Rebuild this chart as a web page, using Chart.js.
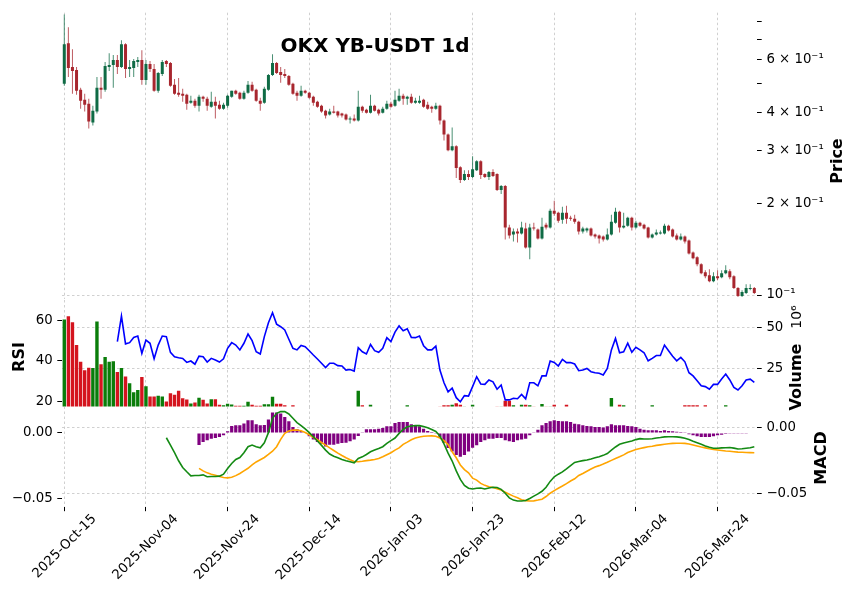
<!DOCTYPE html>
<html>
<head>
<meta charset="utf-8">
<title>OKX YB-USDT 1d</title>
<script src="https://cdn.jsdelivr.net/npm/chart.js@4.4.1/dist/chart.umd.min.js"></script>
<style>
  html, body { margin: 0; padding: 0; background: #fff; }
  #wrap { position: relative; width: 856px; height: 599px; }
  #wrap canvas { position: absolute; left: 0; top: 0; }
</style>
</head>
<body>
<div id="wrap">
  <canvas id="priceChart" width="856" height="599"></canvas>
  <canvas id="rsiChart" width="856" height="599"></canvas>
  <canvas id="macdChart" width="856" height="599"></canvas>
</div>
<script>
// x tick positions (candle index) and their date labels
const tickIdx = [0, 20, 40, 60, 80, 100, 120, 140, 160];
const tickLabels = ['2025-Oct-15', '2025-Nov-04', '2025-Nov-24', '2025-Dec-14', '2026-Jan-03',
                    '2026-Jan-23', '2026-Feb-12', '2026-Mar-04', '2026-Mar-24'];
const priceTicks = [0.1, 0.2, 0.3, 0.4, 0.5, 0.6, 0.7, 0.8];
const priceTickLabels = ['10\u207B\u00B9', '2 \u00D7 10\u207B\u00B9', '3 \u00D7 10\u207B\u00B9', '4 \u00D7 10\u207B\u00B9',
                         '', '6 \u00D7 10\u207B\u00B9', '', ''];

// daily OHLC, 2025-10-15 .. 2026-04-02
const open = [
  .4982,.6786,.5663,.5536,.4761,.4416,.4285,.3713,.4034,.4834,
  .4761,.5663,.5749,.5970,.5663,.6735,.5578,.5620,.5880,.5970,
  .5134,.5793,.5578,.4726,.5372,.5925,.5836,.4944,.4655,.4620,
  .4585,.4317,.4383,.4221,.4517,.4449,.4189,.4350,.4252,.4126,
  .4221,.4517,.4726,.4655,.4449,.4655,.4944,.4761,.4383,.4317,
  .4761,.5332,.5836,.5454,.5372,.5292,.4982,.4655,.4551,.4726,
  .4655,.4517,.4350,.4221,.4064,.3944,.4034,.4034,.3973,.3944,
  .3798,.3826,.3769,.4189,.4095,.4003,.4221,.4095,.4003,.4126,
  .4285,.4221,.4383,.4551,.4449,.4517,.4317,.4317,.4416,.4252,
  .4189,.4126,.4221,.3769,.3392,.3006,.3098,.2644,.2398,.2508,
  .2453,.2585,.2767,.2508,.2453,.2547,.2508,.2224,.2292,.1670,
  .1584,.1620,.1596,.1657,.1436,.1670,.1645,.1537,.1708,.1670,
  .1898,.1870,.1774,.1870,.1800,.1787,.1747,.1620,.1632,.1657,
  .1584,.1572,.1560,.1525,.1584,.1734,.1884,.1670,.1695,.1800,
  .1670,.1734,.1708,.1670,.1548,.1584,.1596,.1596,.1695,.1645,
  .1572,.1525,.1560,.1514,.1383,.1332,.1263,.1189,.1163,.1111,
  .1154,.1145,.1180,.1198,.1154,.1054,.0992,.1015,.1046,.1054
];
const high = [
  .8445,.7656,.6486,.5663,.4834,.4620,.4449,.4221,.5252,.5252,
  .5880,.6293,.6199,.6199,.6941,.6786,.5970,.6015,.6107,.6437,
  .5970,.5925,.5793,.5454,.5970,.5970,.5880,.5173,.5212,.4797,
  .4620,.4551,.4449,.4585,.4551,.4517,.4690,.4517,.4383,.4317,
  .4585,.4726,.4761,.4690,.4726,.5096,.5058,.4797,.4483,.4871,
  .5372,.6246,.5880,.5663,.5578,.5332,.5020,.4726,.4907,.4761,
  .4690,.4551,.4383,.4252,.4095,.4126,.4221,.4064,.4003,.3973,
  .3885,.3944,.4726,.4221,.4126,.4585,.4252,.4126,.4189,.4383,
  .4350,.4726,.4797,.4620,.4551,.4620,.4483,.4551,.4449,.4350,
  .4221,.4317,.4252,.3798,.3417,.3575,.3122,.2665,.2585,.2585,
  .2873,.2788,.2788,.2527,.2566,.2605,.2527,.2309,.2309,.1708,
  .1657,.1657,.1747,.1734,.1721,.1734,.1657,.1800,.1734,.1927,
  .2047,.1884,.1956,.1971,.1828,.1842,.1760,.1682,.1670,.1670,
  .1596,.1584,.1572,.1657,.1842,.1941,.1898,.1870,.1814,.1814,
  .1760,.1747,.1721,.1682,.1596,.1645,.1632,.1721,.1708,.1657,
  .1596,.1596,.1572,.1525,.1393,.1342,.1273,.1207,.1216,.1189,
  .1207,.1207,.1254,.1216,.1163,.1062,.1038,.1086,.1086,.1062
];
const low = [
  .4907,.5252,.4620,.4585,.4126,.4034,.3548,.3630,.3973,.4449,
  .4690,.5495,.4834,.5372,.5620,.5212,.5252,.5252,.5663,.4944,
  .4944,.5454,.4690,.4655,.5292,.5663,.4871,.4585,.4517,.4350,
  .4095,.4285,.4157,.4034,.4350,.4064,.4157,.3826,.4095,.4095,
  .4157,.4483,.4585,.4416,.4416,.4620,.4690,.4350,.4064,.4285,
  .4726,.5292,.5372,.5020,.5212,.4907,.4585,.4383,.4517,.4620,
  .4449,.4221,.4157,.4003,.3826,.3914,.3973,.3855,.3855,.3769,
  .3685,.3741,.3741,.4003,.3973,.3973,.4034,.3914,.3973,.4095,
  .4157,.4189,.4350,.4252,.4252,.4285,.4285,.4285,.4157,.4095,
  .4003,.4095,.3657,.3241,.2984,.2984,.2434,.2344,.2380,.2398,
  .2434,.2566,.2416,.2434,.2398,.2453,.2207,.2157,.1525,.1537,
  .1503,.1491,.1584,.1425,.1312,.1632,.1525,.1525,.1645,.1657,
  .1828,.1734,.1721,.1721,.1760,.1721,.1584,.1596,.1608,.1560,
  .1537,.1480,.1503,.1514,.1572,.1721,.1608,.1657,.1682,.1632,
  .1657,.1682,.1645,.1537,.1537,.1572,.1584,.1584,.1620,.1548,
  .1514,.1514,.1480,.1362,.1312,.1244,.1172,.1136,.1103,.1103,
  .1120,.1136,.1172,.1128,.1046,.0985,.0985,.1008,.1038,.1008
];
const close = [
  .6735,.5620,.5495,.4726,.4383,.4252,.3741,.4064,.4834,.4761,
  .5706,.5749,.5970,.5663,.6735,.5578,.5663,.5925,.5970,.5134,
  .5793,.5578,.4726,.5413,.5880,.5793,.4907,.4620,.4585,.4551,
  .4285,.4383,.4221,.4517,.4449,.4221,.4350,.4221,.4126,.4252,
  .4551,.4726,.4620,.4449,.4655,.4944,.4726,.4383,.4285,.4797,
  .5332,.5836,.5413,.5332,.5292,.4944,.4620,.4551,.4726,.4655,
  .4483,.4317,.4189,.4034,.3914,.4034,.4003,.3914,.3914,.3798,
  .3826,.3769,.4189,.4064,.4003,.4221,.4064,.3973,.4126,.4285,
  .4189,.4416,.4551,.4449,.4517,.4317,.4383,.4383,.4189,.4126,
  .4126,.4221,.3769,.3392,.3006,.3098,.2625,.2398,.2508,.2453,
  .2605,.2767,.2490,.2453,.2547,.2471,.2224,.2292,.1670,.1572,
  .1620,.1596,.1670,.1436,.1670,.1657,.1537,.1682,.1670,.1898,
  .1856,.1760,.1870,.1787,.1787,.1747,.1620,.1657,.1657,.1572,
  .1560,.1537,.1525,.1584,.1747,.1884,.1670,.1695,.1800,.1670,
  .1734,.1695,.1657,.1548,.1584,.1608,.1608,.1695,.1632,.1560,
  .1525,.1560,.1503,.1372,.1322,.1263,.1180,.1154,.1111,.1154,
  .1136,.1180,.1207,.1145,.1054,.0992,.1023,.1054,.1054,.1015
];

// volume in millions
const volume = [
  55, 57, 53.3, 39.4, 29, 23.8, 25.4, 25.2, 53.8, 27.5,
  32, 29, 29.4, 22.7, 25.2, 20, 15.8, 10.2, 11.7, 19.6,
  14, 7.7, 7.7, 8.1, 7.7, 4.6, 9.6, 8.75, 11.25, 6.5,
  5.8, 3.3, 4, 6.9, 5.6, 3.3, 6, 6, 2.5, 2.3,
  3.1, 2.7, 1.9, 1.9, 1.9, 4.4, 2.5, 1.9, 1.9, 2.9,
  2.9, 7.5, 3.1, 3.1, 2.2, 1.2, 2.2, 1.1, 1.0, 1.2,
  1.0, 1.1, 0.9, 1.0, 1.2, 1.0, 0.9, 1.1, 1.0, 0.8,
  1.0, 1.2, 11.25, 2.2, 1.2, 2.5, 1.0, 0.9, 1.1, 1.0,
  0.9, 1.0, 1.2, 1.1, 2.2, 1.0, 0.9, 1.0, 1.1, 0.9,
  1.0, 1.2, 1.3, 2.2, 2.2, 2.5, 3.5, 2.5, 1.3, 1.2,
  2.5, 1.1, 1.0, 1.2, 1.1, 1.0, 1.3, 1.4, 5.0, 5.0,
  2.2, 1.2, 2.6, 2.6, 2.2, 1.3, 1.2, 3.0, 1.4, 1.3,
  2.6, 1.2, 1.1, 2.6, 1.0, 1.1, 1.0, 1.2, 0.9, 1.0,
  1.1, 1.0, 0.9, 1.0, 6.7, 1.2, 2.6, 2.2, 1.0, 1.1,
  1.0, 0.9, 1.0, 1.1, 2.2, 1.0, 0.9, 1.0, 1.1, 1.0,
  0.9, 1.0, 2.2, 2.2, 2.2, 2.2, 1.2, 2.2, 1.1, 1.0,
  1.0, 1.1, 2.2, 1.0, 1.2, 1.1, 1.0, 0.9, 1.0, 1.0
];

const rsi = [
  null, null, null, null, null, null, null, null, null, null,
  null, null, null, 49.6, 62.3, 48.5, 49.1, 51.7, 52.4, 43.8,
  50.4, 48.8, 41.1, 47.9, 52.4, 52.1, 44.3, 42.1, 41.6, 41.3,
  39.3, 40.0, 38.4, 42.4, 42.1, 39.5, 41.3, 40.5, 39.5, 41.1,
  46.3, 49.1, 47.9, 45.5, 48.8, 53.4, 50.1, 44.6, 43.5, 52.1,
  59.0, 64.0, 58.3, 57.0, 55.4, 50.8, 46.3, 45.5, 47.7, 47.1,
  45.1, 43.0, 41.0, 38.9, 36.7, 38.9, 38.9, 37.7, 37.5, 35.5,
  35.8, 35.0, 46.6, 44.6, 43.5, 48.2, 45.1, 44.3, 46.3, 51.6,
  49.6, 54.3, 57.4, 55.0, 56.0, 51.7, 51.6, 52.4, 47.6, 45.5,
  45.5, 47.4, 35.5, 29.2, 24.7, 26.5, 21.8, 19.8, 22.8, 22.6,
  27.3, 32.2, 28.6, 28.4, 30.6, 29.7, 26.0, 28.1, 20.7, 20.7,
  21.5, 21.3, 23.4, 21.2, 29.2, 29.2, 27.7, 32.6, 32.6, 40.0,
  39.3, 37.5, 40.8, 39.2, 39.2, 38.5, 35.2, 35.5, 36.3, 34.7,
  34.2, 33.9, 33.1, 36.3, 45.5, 51.2, 44.1, 44.6, 48.8, 44.3,
  46.8, 45.5, 44.1, 40.1, 41.3, 42.7, 42.7, 47.9, 45.1, 42.4,
  40.1, 41.8, 39.6, 34.2, 32.6, 30.2, 27.7, 27.3, 26.0, 28.4,
  28.4, 31.1, 33.5, 30.6, 26.9, 25.6, 27.7, 30.6, 31.0, 29.4
];

const macd = [
  null, null, null, null, null, null, null, null, null, null,
  null, null, null, null, null, null, null, null, null, null,
  null, null, null, null, null, -0.0078, -0.0134, -0.0192, -0.0253, -0.0304,
  -0.0337, -0.0368, -0.0365, -0.0365, -0.0360, -0.0375, -0.0373, -0.0373, -0.0370, -0.0355,
  -0.0312, -0.0274, -0.0243, -0.0228, -0.0192, -0.0146, -0.0134, -0.0146, -0.0154, -0.0116,
  -0.0039, 0.0070, 0.0108, 0.0121, 0.0121, 0.0103, 0.0070, 0.0037, 0.0014, -0.0011,
  -0.0039, -0.0070, -0.0103, -0.0136, -0.0172, -0.0202, -0.0218, -0.0230, -0.0243, -0.0253,
  -0.0261, -0.0269, -0.0235, -0.0223, -0.0205, -0.0185, -0.0172, -0.0160, -0.0146, -0.0121,
  -0.0100, -0.0080, -0.0045, -0.0015, 0.0005, 0.0012, 0.0014, 0.0014, 0.0008, -0.0002,
  -0.0015, -0.0030, -0.0065, -0.0125, -0.0195, -0.0255, -0.0330, -0.0395, -0.0440, -0.0462,
  -0.0468, -0.0462, -0.0460, -0.0468, -0.0460, -0.0455, -0.0456, -0.0470, -0.0500, -0.0535,
  -0.0552, -0.0559, -0.0559, -0.0555, -0.0540, -0.0522, -0.0505, -0.0485, -0.0455, -0.0410,
  -0.0375, -0.0355, -0.0338, -0.0315, -0.0290, -0.0266, -0.0258, -0.0252, -0.0247, -0.0240,
  -0.0230, -0.0222, -0.0212, -0.0198, -0.0172, -0.0148, -0.0128, -0.0118, -0.0110, -0.0103,
  -0.0092, -0.0085, -0.0087, -0.0088, -0.0085, -0.0080, -0.0076, -0.0071, -0.0070, -0.0070,
  -0.0071, -0.0075, -0.0082, -0.0092, -0.0105, -0.0116, -0.0128, -0.0140, -0.0150, -0.0158,
  -0.0158, -0.0155, -0.0154, -0.0152, -0.0157, -0.0163, -0.0162, -0.0158, -0.0154, -0.0146
];

const signal = [
  null, null, null, null, null, null, null, null, null, null,
  null, null, null, null, null, null, null, null, null, null,
  null, null, null, null, null, null, null, null, null, null,
  null, null, null, -0.0311, -0.0330, -0.0345, -0.0355, -0.0363, -0.0372, -0.0380,
  -0.0383, -0.0378, -0.0366, -0.0350, -0.0330, -0.0310, -0.0285, -0.0262, -0.0245, -0.0228,
  -0.0205, -0.0180, -0.0146, -0.0090, -0.0045, -0.0026, -0.0020, -0.0019, -0.0025, -0.0038,
  -0.0055, -0.0074, -0.0093, -0.0114, -0.0134, -0.0155, -0.0175, -0.0195, -0.0213, -0.0230,
  -0.0245, -0.0258, -0.0261, -0.0257, -0.0252, -0.0248, -0.0243, -0.0235, -0.0222, -0.0207,
  -0.0192, -0.0172, -0.0155, -0.0128, -0.0111, -0.0093, -0.0080, -0.0072, -0.0067, -0.0065,
  -0.0064, -0.0066, -0.0080, -0.0100, -0.0130, -0.0185, -0.0230, -0.0285, -0.0320, -0.0345,
  -0.0385, -0.0400, -0.0425, -0.0440, -0.0450, -0.0457, -0.0466, -0.0476, -0.0492, -0.0508,
  -0.0522, -0.0535, -0.0550, -0.0556, -0.0559, -0.0558, -0.0552, -0.0545, -0.0525, -0.0500,
  -0.0480, -0.0462, -0.0445, -0.0427, -0.0407, -0.0390, -0.0365, -0.0350, -0.0333, -0.0316,
  -0.0300, -0.0290, -0.0278, -0.0265, -0.0250, -0.0236, -0.0223, -0.0208, -0.0190, -0.0178,
  -0.0168, -0.0160, -0.0153, -0.0147, -0.0142, -0.0136, -0.0132, -0.0128, -0.0124, -0.0121,
  -0.0120, -0.0120, -0.0121, -0.0126, -0.0133, -0.0140, -0.0148, -0.0155, -0.0162, -0.0167,
  -0.0171, -0.0175, -0.0179, -0.0181, -0.0184, -0.0187, -0.0188, -0.0190, -0.0191, -0.0192
];

const hist = [
  null, null, null, null, null, null, null, null, null, null,
  null, null, null, null, null, null, null, null, null, null,
  null, null, null, null, null, null, null, null, null, null,
  null, null, null, -0.0092, -0.0069, -0.0056, -0.0043, -0.0038, -0.0031, -0.0018,
  0.0013, 0.0053, 0.0059, 0.0059, 0.0072, 0.0097, 0.0097, 0.0066, 0.0059, 0.0061,
  0.0102, 0.0156, 0.0156, 0.0148, 0.0122, 0.0089, 0.0046, 0.0028, 0.0015, 0.0005,
  -0.0025, -0.0050, -0.0069, -0.0081, -0.0102, -0.0089, -0.0089, -0.0081, -0.0076, -0.0074,
  -0.0063, -0.0050, -0.0023, 0.0005, 0.0028, 0.0028, 0.0028, 0.0033, 0.0038, 0.0051,
  0.0051, 0.0076, 0.0084, 0.0084, 0.0084, 0.0066, 0.0059, 0.0051, 0.0033, 0.0015,
  0.0008, -0.0005, -0.0030, -0.0075, -0.0115, -0.0140, -0.0168, -0.0180, -0.0168, -0.0140,
  -0.0112, -0.0094, -0.0069, -0.0056, -0.0043, -0.0043, -0.0038, -0.0038, -0.0056, -0.0063,
  -0.0069, -0.0056, -0.0050, -0.0043, -0.0018, 0.0005, 0.0025, 0.0059, 0.0076, 0.0089,
  0.0097, 0.0092, 0.0089, 0.0089, 0.0084, 0.0071, 0.0066, 0.0059, 0.0053, 0.0051,
  0.0046, 0.0046, 0.0041, 0.0051, 0.0066, 0.0059, 0.0059, 0.0059, 0.0053, 0.0051,
  0.0046, 0.0033, 0.0025, 0.0020, 0.0020, 0.0020, 0.0015, 0.0020, 0.0015, 0.0013,
  0.0010, 0.0008, 0.0005, -0.0010, -0.0018, -0.0025, -0.0031, -0.0031, -0.0031, -0.0025,
  -0.0018, -0.0013, -0.0008, -0.0005, -0.0005, -0.0005, -0.0005, -0.0005, null, null
];

const X_MIN = -0.56, X_MAX = 169.66;
const FONT = '"DejaVu Sans", sans-serif';
const tickFont = { family: FONT, size: 13.3 };
const GRID = '#c4c4c4';
const DASH = [2.5, 2.5];

const UP_BODY = '#0f6b45', DOWN_BODY = '#a8262e';
const UP_WICK = 'rgba(15,107,69,0.75)', DOWN_WICK = 'rgba(168,38,46,0.75)';
const UP_VOL = '#0a7d0a', DOWN_VOL = '#d4141e';

const idx = open.map((_, i) => i);
const isUp = idx.map(i => close[i] >= open[i]);

function xScale(show) {
  return {
    type: 'linear', min: X_MIN, max: X_MAX, offset: false,
    afterBuildTicks: s => { s.ticks = tickIdx.map(v => ({ value: v })); },
    afterFit: s => { s.height = show ? 92.5 : 0; },
    grid: { offset: false, color: GRID, lineWidth: 0.8, drawTicks: show, tickLength: 4.7, tickColor: '#000', tickWidth: 1 },
    border: { display: false, dash: DASH },
    ticks: {
      display: show, autoSkip: false, minRotation: 45, maxRotation: 45,
      font: tickFont, color: '#000', padding: 0, labelOffset: 30,
      callback: v => tickLabels[tickIdx.indexOf(v)]
    }
  };
}

function yTicks(values) {
  return s => { s.ticks = values.map(v => ({ value: v })); };
}

const macdFmt = v => v.toFixed(2).replace('-', '\u2212');

const baseOpts = {
  responsive: false, animation: false, events: [], devicePixelRatio: 1,
  plugins: { legend: { display: false }, tooltip: { enabled: false } }
};

// axis titles and chart title, drawn at fixed spots
const textPlugin = {
  id: 'texts',
  afterDraw(chart) {
    const c = chart.ctx;
    c.save();
    c.fillStyle = '#000';
    c.textAlign = 'center';
    c.textBaseline = 'middle';
    c.font = 'bold 20px ' + FONT;
    c.fillText('OKX YB-USDT 1d', 375, 47);
    const vert = (txt, x, y, font) => {
      c.save();
      c.translate(x, y);
      c.rotate(-Math.PI / 2);
      c.font = font;
      c.fillText(txt, 0, 0);
      c.restore();
    };
    vert('Price', 838, 161, 'bold 16px ' + FONT);
    vert('RSI', 20, 357, 'bold 16px ' + FONT);
    vert('Volume', 797, 377, 'bold 16px ' + FONT);
    vert('10\u2076', 797, 317, '14px ' + FONT);
    vert('MACD', 822, 458, 'bold 16px ' + FONT);
    c.restore();
  }
};

// price panel: candles as floating bars (wick + body)
new Chart(document.getElementById('priceChart'), {
  type: 'bar',
  data: {
    datasets: [
      {
        data: idx.map(i => ({ x: i, y: [low[i], high[i]] })),
        backgroundColor: idx.map(i => isUp[i] ? UP_WICK : DOWN_WICK),
        barThickness: 1, grouped: false, inflateAmount: 0, order: 2
      },
      {
        data: idx.map(i => ({ x: i, y: [Math.min(open[i], close[i]), Math.max(open[i], close[i])] })),
        backgroundColor: idx.map(i => isUp[i] ? UP_BODY : DOWN_BODY),
        barThickness: 3, grouped: false, inflateAmount: 0, minBarLength: 1, order: 1
      }
    ]
  },
  options: {
    ...baseOpts,
    layout: { padding: { left: 62, right: 0, top: 10, bottom: 300 } },
    scales: {
      x: xScale(false),
      y: {
        type: 'logarithmic', position: 'right', min: 0.09703, max: 0.856,
        afterBuildTicks: yTicks(priceTicks),
        afterFit: s => { s.width = 99; },
        grid: {
          color: ctx => (ctx.tick && ctx.tick.value === 0.1) ? GRID : 'rgba(0,0,0,0)',
          lineWidth: 0.8, tickLength: 4.7, tickColor: '#000', tickWidth: 1
        },
        border: { display: false, dash: DASH },
        ticks: { font: tickFont, color: '#000', padding: 4.7, autoSkip: false,
                 callback: (v, i) => priceTickLabels[i] }
      }
    }
  }
});

// RSI + volume panel
new Chart(document.getElementById('rsiChart'), {
  type: 'bar',
  data: {
    datasets: [
      {
        type: 'line', data: idx.map(i => ({ x: i, y: rsi[i] })), yAxisID: 'yR',
        borderColor: '#0000ff', borderWidth: 1.6, pointRadius: 0, tension: 0, order: 0
      },
      {
        data: idx.map(i => ({ x: i, y: volume[i] })), yAxisID: 'yV',
        backgroundColor: idx.map(i => isUp[i] ? UP_VOL : DOWN_VOL),
        barThickness: 3.4, grouped: false, inflateAmount: 0, order: 1
      }
    ]
  },
  options: {
    ...baseOpts,
    layout: { padding: { left: 0, right: 0, top: 300, bottom: 192.5 } },
    scales: {
      x: xScale(false),
      yR: {
        type: 'linear', position: 'left', min: 17.42, max: 70.27,
        afterBuildTicks: yTicks([20, 40, 60]),
        afterFit: s => { s.width = 62; },
        grid: { drawOnChartArea: false, tickLength: 4.7, tickColor: '#000', tickWidth: 1 },
        border: { display: false },
        ticks: { font: tickFont, color: '#000', padding: 4.7 }
      },
      yV: {
        type: 'linear', position: 'right', min: 1.48, max: 67.06,
        afterBuildTicks: yTicks([25, 50]),
        afterFit: s => { s.width = 99; },
        grid: { color: GRID, lineWidth: 0.8, tickLength: 4.7, tickColor: '#000', tickWidth: 1 },
        border: { display: false, dash: DASH },
        ticks: { font: tickFont, color: '#000', padding: 4.7 }
      }
    }
  }
});

// MACD panel
new Chart(document.getElementById('macdChart'), {
  type: 'bar',
  data: {
    datasets: [
      {
        type: 'line', data: idx.map(i => ({ x: i, y: macd[i] })), yAxisID: 'yM',
        borderColor: '#138a13', borderWidth: 1.6, pointRadius: 0, tension: 0, order: 0
      },
      {
        type: 'line', data: idx.map(i => ({ x: i, y: signal[i] })), yAxisID: 'yM',
        borderColor: '#ffa500', borderWidth: 1.6, pointRadius: 0, tension: 0, order: 0
      },
      {
        data: idx.map(i => ({ x: i, y: hist[i] })), yAxisID: 'yH',
        backgroundColor: '#800080', barThickness: 3.2, grouped: false, inflateAmount: 0, order: 1
      }
    ]
  },
  options: {
    ...baseOpts,
    layout: { padding: { left: 0, right: 0, top: 406.5, bottom: 0 } },
    scales: {
      x: xScale(true),
      yH: {
        type: 'linear', position: 'left', min: -0.0559, max: 0.02015,
        afterBuildTicks: yTicks([-0.05, 0]),
        afterFit: s => { s.width = 62; },
        grid: { drawOnChartArea: false, tickLength: 4.7, tickColor: '#000', tickWidth: 1 },
        border: { display: false },
        ticks: { font: tickFont, color: '#000', padding: 4.7, callback: macdFmt }
      },
      yM: {
        type: 'linear', position: 'right', min: -0.06008, max: 0.01597,
        afterBuildTicks: yTicks([-0.05, 0]),
        afterFit: s => { s.width = 99; },
        grid: { color: GRID, lineWidth: 0.8, tickLength: 4.7, tickColor: '#000', tickWidth: 1 },
        border: { display: false, dash: DASH },
        ticks: { font: tickFont, color: '#000', padding: 4.7, callback: macdFmt }
      }
    }
  },
  plugins: [textPlugin]
});
</script>
</body>
</html>
